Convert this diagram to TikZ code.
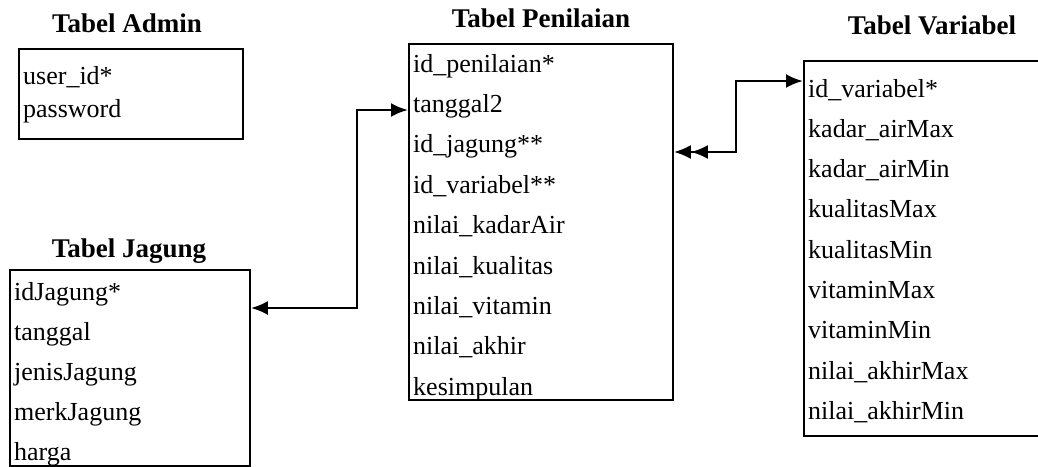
\documentclass[tikz,border=0pt]{standalone}
\usepackage{fontspec}
\setmainfont{Liberation Serif}
\usetikzlibrary{arrows.meta}
\begin{document}
\begin{tikzpicture}[x=1pt,y=-1pt,
  tablebox/.style={draw=black,line width=1.8pt,inner sep=0pt,anchor=north west},
  field/.style={anchor=base west,inner sep=0pt,font=\fontsize{26}{30}\selectfont},
  heading/.style={anchor=base,inner sep=0pt,font=\fontsize{27}{30}\selectfont\bfseries},
  link/.style={line width=2.6pt}]
\tikzset{tip/.tip={Latex[length=17pt,width=14pt]}}
\useasboundingbox (0,0) rectangle (1038,466);

% --- Tabel Admin ---
\node[heading] (tAdmin) at (127,32) {Tabel Admin};
\node[tablebox,minimum width=224pt,minimum height=90pt] (admin) at (18,48) {};
\node[field] (aUser) at (23,84) {user\_id*};
\node[field] (aPass) at (23,117) {password};

% --- Tabel Jagung ---
\node[heading] (tJagung) at (129,257) {Tabel Jagung};
\node[tablebox,minimum width=240pt,minimum height=196pt] (jagung) at (9,269) {};
\foreach \t [count=\i from 0] in {idJagung*,tanggal,jenisJagung,merkJagung,harga}
  \node[field] (j\i) at (14,300+40*\i) {\t};

% --- Tabel Penilaian ---
\node[heading] (tPenilaian) at (541,27) {Tabel Penilaian};
\node[tablebox,minimum width=264pt,minimum height=356pt] (penilaian) at (408,43) {};
\foreach \t [count=\i from 0] in {id\_penilaian*,tanggal2,id\_jagung**,id\_variabel**,%
  nilai\_kadarAir,nilai\_kualitas,nilai\_vitamin,nilai\_akhir,kesimpulan}
  \node[field] (p\i) at (413,72+40.4*\i) {\t};

% --- Tabel Variabel ---
\node[heading] (tVariabel) at (932,34) {Tabel Variabel};
\node[tablebox,minimum width=240pt,minimum height=375pt] (variabel) at (803,60) {};
\foreach \t [count=\i from 0] in {id\_variabel*,kadar\_airMax,kadar\_airMin,kualitasMax,%
  kualitasMin,vitaminMax,vitaminMin,nilai\_akhirMax,nilai\_akhirMin}
  \node[field] (v\i) at (808,97+40.3*\i) {\t};

% --- relations ---
\coordinate (jagIn) at (jagung.east |- 0,308);
\coordinate (penIn) at (penilaian.west |- 0,110);
\coordinate (penOut) at (penilaian.east |- 0,152);
\coordinate (varIn) at (variabel.west |- 0,81);

\draw[link,tip-tip] (jagIn) -- (357,308) -- (357,110) -- (penIn);
\draw[link,{tip[sep=0pt]tip}-tip] (penOut) -- (736,152) -- (736,81) -- (varIn);
\end{tikzpicture}
\end{document}
